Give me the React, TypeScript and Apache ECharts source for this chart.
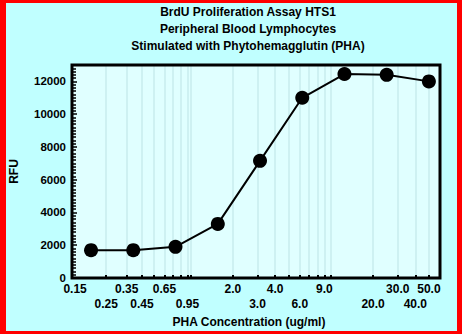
import React, { useEffect, useRef } from "react";
import * as echarts from "echarts";

const titleLines = [
  "BrdU Proliferation Assay HTS1",
  "Peripheral Blood Lymphocytes",
  "Stimulated with Phytohemagglutin (PHA)",
];
const xAxisTitle = "PHA Concentration (ug/ml)";
const yAxisTitle = "RFU";

const concentrations = [0.195, 0.39, 0.78, 1.5625, 3.125, 6.25, 12.5, 25, 50];
const rfu = [1700, 1700, 1900, 3300, 7150, 11000, 12450, 12400, 12000];

const xLabelsRow1 = ["0.15", "0.35", "0.65", "2.0", "4.0", "9.0", "30.0", "50.0"];
const xLabelsRow2 = ["0.25", "0.45", "0.95", "3.0", "6.0", "20.0", "40.0"];
const xTickValues = [
  0.25, 0.35, 0.45, 0.55, 0.65, 0.75, 0.85, 0.95, 1, 2, 3, 4, 5, 6, 7, 8, 9, 10,
  20, 30, 40, 50,
];
const xMin = 0.145;
const xMax = 60;
const yMin = 0;
const yMax = 13000;
const yInterval = 2000;

const FONT = "'Liberation Sans', Arial, sans-serif";

function nearestLabel(labels: string[], v: number): string {
  let best = labels[0];
  let bd = Infinity;
  for (const l of labels) {
    const d = Math.abs(Math.log10(parseFloat(l)) - v);
    if (d < bd) {
      bd = d;
      best = l;
    }
  }
  return best;
}

export default function App() {
  const ref = useRef<HTMLDivElement>(null);
  useEffect(() => {
    if (!ref.current) return;
    const chart = echarts.init(ref.current, undefined, { renderer: "svg" });
    const gl = 72,
      gt = 65,
      gw = 368,
      gh = 213;
    const lx = (v: number) => Math.log10(v);
    const labelStyle = {
      color: "#000",
      fontFamily: FONT,
      fontWeight: "bold" as const,
      fontSize: 12,
    };
    chart.setOption({
      animation: false,
      backgroundColor: "#c0ffff",
      grid: {
        left: gl,
        top: gt,
        width: gw,
        height: gh,
        show: true,
        backgroundColor: "#e0ffff",
        borderWidth: 0,
      },
      graphic: [
        { type: "rect", shape: { x: 0, y: 0, width: 462, height: 3 }, style: { fill: "#ff0000" }, z: 50 },
        { type: "rect", shape: { x: 0, y: 331, width: 462, height: 3 }, style: { fill: "#ff0000" }, z: 50 },
        { type: "rect", shape: { x: 0, y: 0, width: 6, height: 334 }, style: { fill: "#ff0000" }, z: 50 },
        { type: "rect", shape: { x: 457, y: 0, width: 5, height: 334 }, style: { fill: "#ff0000" }, z: 50 },
        {
          type: "rect",
          shape: { x: gl, y: gt, width: gw, height: gh },
          style: { fill: "none", stroke: "#000", lineWidth: 3 },
          z: 100,
          silent: true,
        },
        ...titleLines.map((t, i) => ({
          type: "text",
          x: 248,
          y: 12 + i * 17,
          style: {
            text: t,
            fill: "#000",
            font: `bold 12px ${FONT}`,
            textAlign: "center",
            textVerticalAlign: "middle",
          },
        })),
        {
          type: "text",
          x: 249,
          y: 322,
          style: {
            text: xAxisTitle,
            fill: "#000",
            font: `bold 12px ${FONT}`,
            textAlign: "center",
            textVerticalAlign: "middle",
          },
        },
      ],
      xAxis: [
        {
          type: "value",
          min: lx(xMin),
          max: lx(xMax),
          position: "bottom",
          axisLine: { show: false, onZero: false },
          axisTick: {
            show: true,
            inside: true,
            length: 3,
            customValues: xTickValues.map(lx),
            lineStyle: { color: "#000", width: 2 },
          },
          splitLine: {
            show: true,
            lineStyle: { color: "#c8ecee", width: 1.5 },
          },
          axisLabel: {
            ...labelStyle,
            margin: 5,
            customValues: xLabelsRow1.map((s) => lx(parseFloat(s))),
            formatter: (v: number) => nearestLabel(xLabelsRow1, v),
          },
        },
        {
          type: "value",
          min: lx(xMin),
          max: lx(xMax),
          position: "bottom",
          offset: 15,
          axisLine: { show: false, onZero: false },
          axisTick: { show: false },
          splitLine: { show: false },
          axisLabel: {
            ...labelStyle,
            margin: 5,
            customValues: xLabelsRow2.map((s) => lx(parseFloat(s))),
            formatter: (v: number) => nearestLabel(xLabelsRow2, v),
          },
        },
      ],
      yAxis: {
        type: "value",
        min: yMin,
        max: yMax,
        interval: yInterval,
        position: "left",
        name: yAxisTitle,
        nameLocation: "middle",
        nameGap: 53,
        nameTextStyle: { ...labelStyle },
        axisLine: { show: false, onZero: false },
        axisTick: {
          show: true,
          inside: true,
          length: 4,
          lineStyle: { color: "#000", width: 1.5 },
        },
        minorTick: {
          show: true,
          splitNumber: 10,
          length: 3,
          lineStyle: { color: "#000", width: 1.5 },
        },
        splitLine: { show: false },
        axisLabel: {
          ...labelStyle,
          fontSize: 11.5,
          margin: 7,
          showMaxLabel: false,
          formatter: (v: number) => String(v),
        },
      },
      series: [
        {
          type: "line",
          xAxisIndex: 0,
          data: concentrations.map((c, i) => [lx(c), rfu[i]]),
          symbol: "circle",
          symbolSize: 14,
          itemStyle: { color: "#000" },
          lineStyle: { color: "#000", width: 2 },
        },
      ],
    });
    return () => chart.dispose();
  }, []);
  return (
    <div
      ref={ref}
      style={{ position: "fixed", left: 0, top: 0, width: 462, height: 334 }}
    />
  );
}
